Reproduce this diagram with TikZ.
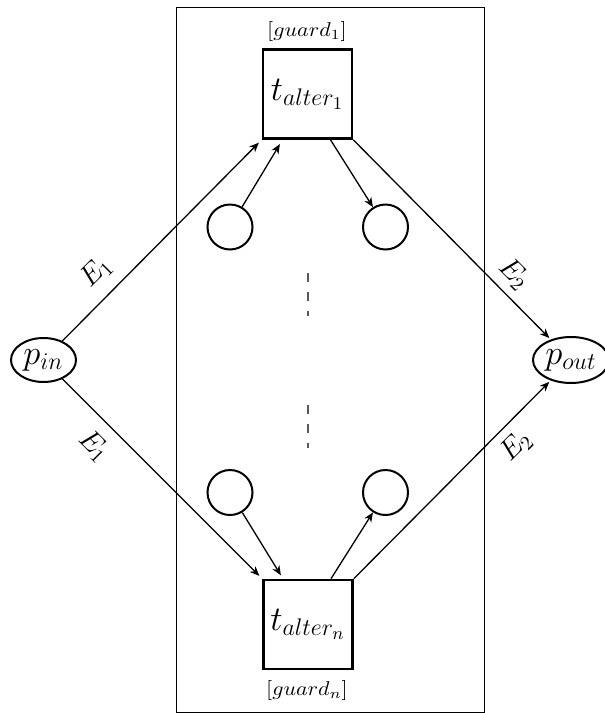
\documentclass[tikz,border=0pt]{standalone}
\usetikzlibrary{shapes.geometric,arrows.meta}
\begin{document}
\begin{tikzpicture}[x=0.5pt,y=-0.5pt,
  trans/.style={draw,rectangle,line width=1.3pt,minimum width=44.5pt,minimum height=44.5pt,inner sep=0pt,font=\fontsize{18}{20}\selectfont},
  place/.style={draw,circle,line width=1pt,minimum size=22.5pt,inner sep=0pt},
  ioplace/.style={draw,ellipse,line width=1pt,inner sep=0pt,font=\fontsize{17}{19}\selectfont},
  conn/.style={line width=0.65pt,-{Stealth[length=4.8pt,width=4pt,inset=1.5pt]}},
  guardlbl/.style={font=\normalsize,inner sep=0pt},
  elbl/.style={font=\Large,inner sep=0pt},
  dots/.style={line width=1pt,black!65,dash pattern=on 4.5pt off 5pt}]
\useasboundingbox (0,0) rectangle (605,713);
% frame
\node[draw,line width=0.5pt,inner sep=0pt,minimum width=154.25pt,minimum height=352.5pt] (frame) at (330.25,359.5) {};
% transitions
\node[trans] (t1) at (307.5,94) {$t_{alter_1}$};
\node[trans] (tn) at (308,624.5) {$t_{alter_n}$};
\node[guardlbl] (g1) at (307,31) {\scalebox{1.1}[1]{$[guard_1]$}};
\node[guardlbl] (gn) at (307,690) {\scalebox{1.1}[1]{$[guard_n]$}};
% places
\node[place] (c1) at (230,227) {};
\node[place] (c2) at (385.5,227) {};
\node[place] (c3) at (230,492.5) {};
\node[place] (c4) at (385.5,492.5) {};
\node[ioplace,minimum width=32.5pt,minimum height=22pt] (pin) at (43.5,360) {$p_{in}$};
\node[ioplace,minimum width=38pt,minimum height=23pt] (pout) at (571,360) {$p_{out}$};
% dashes
\coordinate (d1a) at (308,273); \coordinate (d1b) at (308,316);
\coordinate (d2a) at (308,405); \coordinate (d2b) at (308,448);
\draw[dots] (d1a) -- (d1b);
\draw[dots] (d2a) -- (d2b);
% connectors
\draw[conn,shorten >=2pt] (pin) -- (t1.south west);
\draw[conn,shorten >=2pt] (pin) -- (tn.north west);
\draw[conn,shorten >=1pt] (t1.south east) -- (pout);
\draw[conn,shorten >=1pt] (tn.north east) -- (pout);
\draw[conn,shorten >=2.5pt] (c1) -- ([xshift=-12.5pt]t1.south);
\draw[conn] ([xshift=11.5pt]t1.south) -- (c2);
\draw[conn,shorten >=2pt] (c3) -- ([xshift=-12.5pt]tn.north);
\draw[conn] ([xshift=11.5pt]tn.north) -- (c4);
% labels
\node[elbl,rotate=45] (e1a) at (96,272) {$E_1$};
\node[elbl,rotate=-45] (e1b) at (94,446) {$E_1$};
\node[elbl,rotate=-45] (e2a) at (514,274) {$E_2$};
\node[elbl,rotate=45] (e2b) at (516,446) {$E_2$};
\end{tikzpicture}
\end{document}
